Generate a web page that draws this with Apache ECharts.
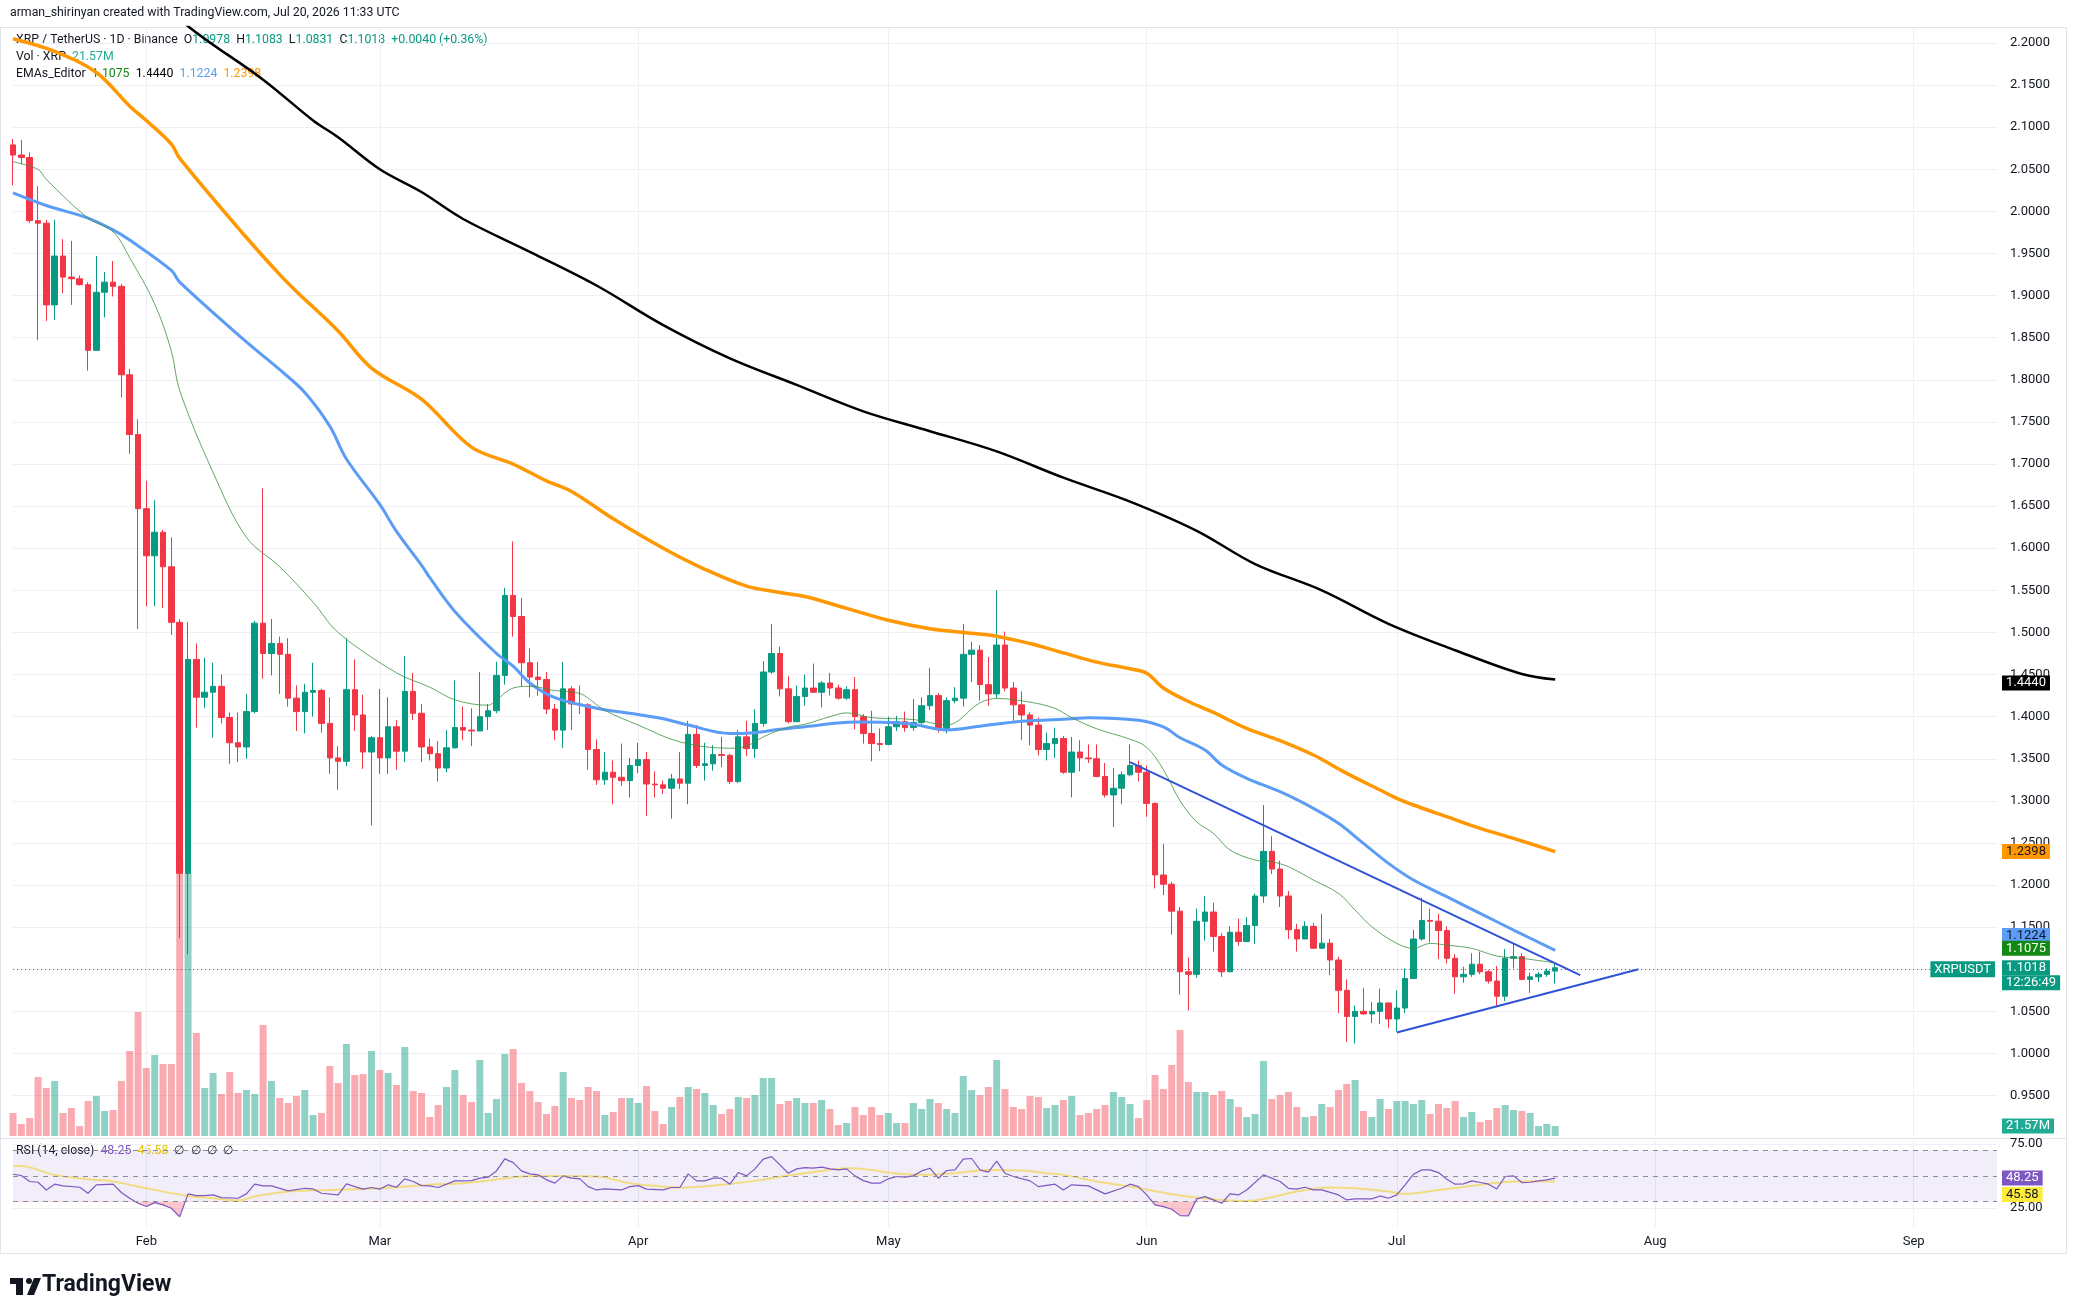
<!DOCTYPE html>
<html><head><meta charset="utf-8">
<script src="https://cdn.jsdelivr.net/npm/echarts@6/dist/echarts.min.js"></script>
<style>html,body{margin:0;padding:0;background:#fff}#c{width:2078px;height:1314px}</style>
</head><body><div id="c"></div>
<script>
// ---------- DATA ----------
const opens = [
2.079,2.067,2.064,1.989,1.986,1.889,1.947,1.922,1.920,1.913,
1.835,1.904,1.916,1.911,1.806,1.735,1.647,1.591,1.619,1.578,
1.512,1.214,1.468,1.423,1.429,1.436,1.399,1.369,1.364,1.406,
1.511,1.475,1.487,1.474,1.422,1.406,1.429,1.431,1.392,1.351,
1.347,1.432,1.402,1.358,1.375,1.351,1.388,1.359,1.430,1.404,
1.364,1.356,1.339,1.363,1.387,1.384,1.383,1.400,1.407,1.449,
1.544,1.519,1.464,1.447,1.444,1.409,1.384,1.433,1.415,1.414,
1.361,1.325,1.334,1.328,1.324,1.342,1.349,1.320,1.319,1.315,
1.326,1.321,1.379,1.342,1.344,1.355,1.354,1.323,1.376,1.362,
1.392,1.453,1.475,1.433,1.394,1.424,1.434,1.429,1.440,1.434,
1.422,1.432,1.400,1.380,1.368,1.367,1.388,1.394,1.387,1.393,
1.413,1.425,1.386,1.419,1.422,1.474,1.479,1.438,1.427,1.485,
1.434,1.414,1.402,1.390,1.361,1.368,1.374,1.334,1.358,1.351,
1.350,1.329,1.307,1.315,1.331,1.342,1.334,1.297,1.212,1.201,
1.169,1.097,1.094,1.157,1.168,1.139,1.097,1.144,1.133,1.152,
1.187,1.240,1.219,1.187,1.147,1.136,1.151,1.125,1.131,1.111,
1.075,1.044,1.050,1.047,1.050,1.060,1.041,1.054,1.089,1.136,
1.158,1.157,1.146,1.113,1.091,1.094,1.106,1.097,1.086,1.068,
1.113,1.115,1.088,1.091,1.094,1.0978];
const highs = [
2.086,2.085,2.070,2.030,1.990,1.990,1.967,1.965,1.924,1.916,
1.947,1.928,1.941,1.914,1.813,1.753,1.680,1.657,1.622,1.613,
1.516,1.512,1.487,1.470,1.464,1.450,1.405,1.405,1.427,1.514,
1.671,1.516,1.495,1.493,1.437,1.439,1.464,1.433,1.423,1.365,
1.493,1.468,1.426,1.377,1.433,1.423,1.396,1.472,1.452,1.415,
1.374,1.371,1.384,1.443,1.412,1.410,1.453,1.415,1.465,1.553,
1.608,1.541,1.481,1.465,1.453,1.415,1.465,1.436,1.437,1.416,
1.373,1.358,1.348,1.368,1.351,1.369,1.358,1.335,1.324,1.332,
1.358,1.395,1.390,1.369,1.366,1.376,1.356,1.384,1.395,1.409,
1.466,1.510,1.483,1.448,1.437,1.450,1.463,1.442,1.452,1.438,
1.436,1.447,1.403,1.407,1.386,1.400,1.401,1.406,1.421,1.423,
1.458,1.428,1.423,1.435,1.510,1.489,1.485,1.471,1.550,1.501,
1.441,1.430,1.405,1.399,1.381,1.387,1.377,1.376,1.372,1.367,
1.367,1.345,1.339,1.335,1.367,1.348,1.342,1.298,1.249,1.204,
1.174,1.114,1.172,1.187,1.179,1.143,1.151,1.160,1.162,1.190,
1.295,1.258,1.229,1.193,1.154,1.157,1.155,1.166,1.136,1.115,
1.088,1.057,1.078,1.061,1.077,1.061,1.075,1.101,1.147,1.185,
1.172,1.166,1.151,1.118,1.103,1.119,1.121,1.099,1.104,1.124,
1.131,1.119,1.096,1.097,1.101,1.1083];
const lows = [
2.031,2.056,1.986,1.847,1.870,1.871,1.903,1.889,1.912,1.811,
1.835,1.874,1.899,1.779,1.712,1.504,1.531,1.531,1.529,1.497,
1.137,1.118,1.387,1.410,1.375,1.392,1.344,1.346,1.350,1.404,
1.445,1.449,1.427,1.412,1.383,1.380,1.400,1.381,1.332,1.313,
1.341,1.383,1.338,1.271,1.332,1.332,1.337,1.346,1.396,1.346,
1.348,1.323,1.334,1.362,1.372,1.365,1.383,1.384,1.404,1.438,
1.495,1.436,1.423,1.425,1.403,1.372,1.363,1.384,1.403,1.337,
1.319,1.319,1.296,1.318,1.304,1.333,1.282,1.304,1.308,1.279,
1.314,1.296,1.339,1.324,1.336,1.340,1.320,1.321,1.353,1.351,
1.388,1.451,1.424,1.392,1.394,1.413,1.428,1.411,1.425,1.420,
1.420,1.385,1.368,1.347,1.359,1.366,1.383,1.382,1.383,1.391,
1.408,1.381,1.380,1.416,1.412,1.441,1.419,1.413,1.422,1.430,
1.395,1.372,1.366,1.354,1.348,1.351,1.332,1.304,1.335,1.345,
1.328,1.304,1.269,1.296,1.329,1.323,1.281,1.196,1.188,1.141,
1.070,1.051,1.090,1.134,1.121,1.091,1.097,1.128,1.132,1.130,
1.179,1.213,1.174,1.136,1.121,1.136,1.124,1.124,1.093,1.048,
1.014,1.012,1.046,1.036,1.035,1.030,1.026,1.048,1.089,1.134,
1.132,1.112,1.107,1.071,1.084,1.091,1.094,1.083,1.056,1.062,
1.101,1.087,1.072,1.085,1.091,1.0831];
const closes = [
2.067,2.064,1.989,1.986,1.889,1.947,1.922,1.920,1.913,1.835,
1.904,1.916,1.911,1.806,1.735,1.647,1.591,1.619,1.578,1.512,
1.214,1.468,1.423,1.429,1.436,1.399,1.369,1.364,1.406,1.511,
1.475,1.487,1.474,1.422,1.406,1.429,1.431,1.392,1.351,1.347,
1.432,1.402,1.358,1.375,1.351,1.388,1.359,1.430,1.404,1.364,
1.356,1.339,1.363,1.387,1.384,1.383,1.400,1.407,1.449,1.544,
1.519,1.464,1.447,1.444,1.409,1.384,1.433,1.415,1.414,1.361,
1.325,1.334,1.328,1.324,1.342,1.349,1.320,1.319,1.315,1.326,
1.321,1.379,1.342,1.344,1.355,1.354,1.323,1.376,1.362,1.392,
1.453,1.475,1.433,1.394,1.424,1.434,1.429,1.440,1.434,1.422,
1.432,1.400,1.380,1.368,1.367,1.388,1.394,1.387,1.393,1.413,
1.425,1.386,1.419,1.422,1.474,1.479,1.438,1.427,1.485,1.434,
1.414,1.402,1.390,1.361,1.368,1.374,1.334,1.358,1.351,1.350,
1.329,1.307,1.315,1.331,1.342,1.334,1.297,1.212,1.201,1.169,
1.097,1.094,1.157,1.168,1.139,1.097,1.144,1.133,1.152,1.187,
1.240,1.219,1.187,1.147,1.136,1.151,1.125,1.131,1.111,1.075,
1.044,1.050,1.047,1.050,1.060,1.041,1.054,1.089,1.136,1.158,
1.157,1.146,1.113,1.091,1.094,1.106,1.097,1.086,1.068,1.113,
1.115,1.088,1.091,1.094,1.0978,1.1018];
// volume, millions of XRP
const volumes = [
49.7,25.9,38.9,127.4,103.7,118.8,49.7,60.5,21.6,75.6,
86.4,54.0,56.2,118.8,183.6,267.8,146.9,175.0,155.5,155.5,
598.3,568.1,222.5,103.7,136.1,90.7,138.2,92.9,99.4,90.7,
239.8,118.8,82.1,71.3,86.4,99.4,45.4,49.7,151.2,114.5,
198.7,131.8,133.9,183.6,142.6,136.1,110.2,192.2,97.2,92.9,
41.0,67.0,105.8,142.6,88.6,73.4,164.2,49.7,79.9,177.1,
187.9,114.5,97.2,73.4,47.5,64.8,138.2,82.1,77.8,105.8,
97.2,45.4,51.8,82.1,82.1,71.3,108.0,54.0,25.9,62.6,
84.2,105.8,101.5,92.9,67.0,47.5,58.3,84.2,82.1,88.6,
125.3,125.3,69.1,75.6,82.1,71.3,71.3,77.8,58.3,23.8,
28.1,62.6,45.4,62.6,45.4,49.7,28.1,28.1,71.3,58.3,
79.9,71.3,58.3,49.7,129.6,99.4,88.6,105.8,164.2,101.5,
62.6,58.3,86.4,84.2,60.5,67.0,77.8,86.4,45.4,49.7,
58.3,67.0,95.0,84.2,69.1,38.9,77.8,131.8,101.5,153.4,
229.0,116.6,95.0,95.0,88.6,97.2,79.9,62.6,41.0,47.5,
162.0,79.9,88.6,95.0,62.6,41.0,43.2,69.1,62.6,99.4,
112.3,121.0,54.0,41.0,79.9,58.3,75.6,75.6,69.1,77.8,
47.5,69.1,60.5,75.6,41.0,51.8,30.2,34.6,60.5,67.0,
56.2,54.0,49.7,21.6,25.9,21.57];
// EMA lines: [day index from Jan 16, value]
const emaFast = [[0,2.059],[3,2.05],[4,2.038],[9,1.992],[12,1.976],[14,1.945],[17,1.89],[19,1.834],[20,1.787],[24,1.69],[28,1.613],[32,1.578],[36,1.536],[39,1.50],[46,1.452],[50,1.435],[53,1.42],[57,1.4135],[58,1.42],[60,1.434],[62,1.436],[65,1.431],[68,1.4275],[71,1.4075],[75,1.39],[80,1.37],[86,1.3625],[88,1.365],[90,1.376],[93,1.3875],[95,1.391],[98,1.40],[100,1.4045],[103,1.3988],[108,1.3966],[112,1.39],[116,1.4164],[118,1.4216],[122,1.4172],[125,1.4098],[127,1.3988],[130,1.3856],[134,1.3732],[136,1.3636],[138,1.3372],[140,1.30],[142,1.275],[144,1.2614],[146,1.2416],[149,1.2297],[151,1.2277],[153,1.2218],[156,1.206],[159,1.1901],[161,1.1703],[163,1.1505],[166,1.1307],[168,1.1248],[170,1.1307],[172,1.1287],[175,1.1248],[178,1.1157],[181,1.113],[185,1.1075]];
const emaMid = [[0,2.022],[4,2.007],[9,1.992],[12,1.978],[14,1.966],[19,1.93],[20,1.916],[28,1.845],[32,1.812],[35,1.785],[38,1.745],[40,1.706],[44,1.652],[46,1.62],[49,1.58],[50,1.565],[53,1.525],[58,1.475],[60,1.46],[62,1.44],[65,1.4225],[70,1.41],[75,1.4025],[78,1.3975],[81,1.39],[86,1.38],[89,1.381],[92,1.385],[95,1.388],[101,1.3935],[105,1.393],[108,1.391],[112,1.3842],[116,1.3886],[121,1.3944],[127,1.3974],[129,1.3988],[135,1.3957],[138,1.3878],[140,1.375],[143,1.3604],[145,1.3426],[148,1.3268],[152,1.3109],[156,1.2911],[159,1.2733],[162,1.2495],[165,1.2258],[168,1.206],[172,1.1862],[176,1.1663],[180,1.1466],[185,1.1224]];
const emaSlow = [[0,2.205],[5,2.19],[10,2.165],[14,2.125],[16,2.108],[19,2.08],[20,2.063],[28,1.969],[32,1.925],[34,1.905],[39,1.858],[43,1.814],[49,1.777],[55,1.72],[60,1.70],[64,1.68],[67,1.6675],[72,1.635],[78,1.60],[83,1.575],[88,1.555],[92,1.5475],[95,1.5426],[100,1.5286],[105,1.5145],[110,1.5044],[114,1.50],[118,1.4956],[122,1.4868],[126,1.4758],[130,1.4648],[134,1.4568],[136,1.4516],[138,1.434],[141,1.418],[144,1.405],[148,1.386],[152,1.3715],[156,1.3544],[160,1.3326],[164,1.3129],[166,1.303],[168,1.2951],[172,1.2812],[176,1.2674],[180,1.2555],[185,1.2398]];
const emaLong = [[17,2.26],[21,2.22],[30,2.1565],[36,2.108],[39,2.088],[44,2.05],[49,2.023],[54,1.991],[62,1.952],[70,1.912],[78,1.865],[86,1.8255],[94,1.794],[102,1.7625],[110,1.739],[118,1.715],[126,1.6838],[134,1.6554],[142,1.6207],[149,1.5812],[157,1.55],[165,1.5103],[173,1.4789],[181,1.4506],[185,1.444]];
// drawn triangle: [day index, price]
const upperTrend = [[134,1.346],[188,1.093]];
const lowerTrend = [[166,1.025],[195,1.100]];
// RSI(14) and its moving average: [day index, value]
const rsiLine = [[0,51.3],[1,50.3],[2,45.6],[3,45],[4,39],[5,43.5],[6,42.2],[8,41.1],[9,36.4],[10,43],[12,43.5],[13,37],[14,32.5],[15,28.6],[16,26],[17,29.1],[18,27.3],[19,24.7],[20,18],[21,35.9],[22,34.6],[23,34.6],[24,35.1],[25,33],[27,32.5],[28,35.9],[29,43.5],[30,42.2],[31,42.2],[33,38.3],[35,40.3],[36,39.8],[37,36.4],[39,35.1],[40,43.7],[41,41.6],[42,39.6],[43,40.9],[44,39.6],[45,43],[46,41.1],[47,47.7],[48,45.6],[49,42.4],[50,42.2],[51,40.9],[53,46.1],[54,46.1],[55,46.3],[56,48.2],[57,49],[58,53.9],[59,63.3],[60,60.4],[61,53.9],[62,51.6],[63,50.8],[64,46.9],[65,44.3],[66,50],[67,48.2],[68,47.7],[69,41.6],[70,39],[71,39.8],[73,39],[74,41.6],[75,42.4],[76,39.6],[78,39],[79,40.9],[80,40.9],[81,51.6],[82,46.1],[83,46.1],[84,48.2],[85,48.2],[86,43.5],[87,52.6],[88,50],[89,55.5],[90,63.1],[91,65.1],[92,58.6],[93,52.1],[94,55.5],[95,56.5],[96,56],[97,56.8],[98,55.5],[99,54.7],[100,55.5],[101,50],[102,46.3],[103,44.3],[104,44.3],[105,47.7],[106,49.5],[107,49],[108,50],[109,53.9],[110,56],[111,48.2],[112,54.2],[113,54.7],[114,63.1],[115,63.6],[116,54.7],[117,52.9],[118,61.5],[119,52.1],[120,49.5],[122,46.1],[123,41.6],[125,43.5],[126,39],[127,43],[129,42.2],[131,35.9],[133,40.3],[134,43.5],[135,41.6],[136,35.1],[137,27.3],[138,26],[139,23.9],[140,18.9],[141,18.7],[142,32],[143,33.8],[144,31.2],[145,28.6],[146,35.9],[147,35.1],[148,39],[150,50.8],[152,45.6],[153,40.3],[154,39.6],[155,41.1],[156,39],[157,39],[159,35.1],[160,31.2],[161,32],[163,32],[164,34.3],[165,32.5],[166,35.1],[167,43],[168,51.3],[169,54.7],[170,54.7],[171,52.6],[172,47.4],[173,43.5],[174,43.7],[175,46.1],[176,44.8],[177,43.5],[178,39.8],[179,49.5],[180,50],[181,44.8],[182,45],[183,46.1],[184,46.9],[185,48.25]];
const rsiMA = [[0,57.8],[1,57.8],[3,54.7],[5,50.8],[9,47.4],[12,45.6],[16,40.3],[21,34.3],[24,32.5],[27,30.7],[29,33.8],[33,37.7],[38,39],[42,39.8],[46,41.1],[50,43],[54,44.3],[57,46.3],[60,49],[63,50],[66,50],[70,49.5],[74,44.3],[77,42.2],[80,40.9],[85,43],[89,46.1],[93,50.3],[97,53.9],[100,56],[103,54.7],[105,52.6],[109,50.8],[113,52.1],[117,54.7],[121,54.2],[124,52.1],[126,50.8],[130,45.6],[134,41.6],[138,36.9],[142,33],[145,31.2],[148,30.4],[151,33.3],[154,37.7],[158,40.9],[161,40.3],[165,37.7],[167,35.9],[171,39],[175,42.2],[179,45.2],[182,45.8],[185,45.58]];
// tick labels
const priceTicks = [0.95,1.00,1.05,1.10,1.15,1.20,1.25,1.30,1.35,1.40,1.45,1.50,1.55,1.60,1.65,1.70,1.75,1.80,1.85,1.90,1.95,2.00,2.05,2.10,2.15,2.20];
const rsiTicks = [25,75];
const rsiLevels = [70,50,30];
const monthTicks = [['2026-02-01','Feb'],['2026-03-01','Mar'],['2026-04-01','Apr'],['2026-05-01','May'],['2026-06-01','Jun'],['2026-07-01','Jul'],['2026-08-01','Aug'],['2026-09-01','Sep']];
const lastVolumeLabel = '21.57M';
const rsiLast = 48.25, rsiMALast = 45.58;
const countdown = '12:26:49';

// ---------- BUILD ----------
const START = Date.UTC(2026,0,16), N_DAYS = 239;
const categories = [];
for (let i=0;i<N_DAYS;i++){ categories.push(new Date(START+i*86400000).toISOString().slice(0,10)); }
const monthMap = Object.fromEntries(monthTicks);
const UP='#089981', DOWN='#f23645';
const FONT = 'Roboto, "Noto Sans", sans-serif';
const FS = 12.3;
const TXT = '#131722';
const CLEAR = 'rgba(0,0,0,0)';
const n = opens.length;
const candleData = opens.map((o,i)=>[o,closes[i],lows[i],highs[i]]);
const volData = volumes.map((v,i)=>({value:v,itemStyle:{color: closes[i]>=opens[i] ? 'rgba(8,153,129,0.45)' : 'rgba(242,54,69,0.42)'}}));
const toCat = arr => arr.map(([d,v])=>[categories[d], v]);
const lastO=opens[n-1], lastH=highs[n-1], lastL=lows[n-1], lastC=closes[n-1];
const chg = lastC - closes[n-2];
const f4 = v => v.toFixed(4);

// axis value tag; spacerTop / spacerBottom mimic TradingView pushing crowded tags apart
const tag = (lines, bg, fg, spacerTop, spacerBottom, lh) => {
  lh = lh || 17;
  let s = '';
  if (spacerTop) s += '{t| }\n';
  s += lines.map(t=>'{v|'+t+'}').join('\n');
  if (spacerBottom) s += '\n{b| }';
  return {show:true, position:'end', distance:5, formatter:s, opacity:1,
    rich:{
      v:{backgroundColor:bg, color:fg, padding:[1,4,1,4], fontSize:13, fontFamily:FONT, lineHeight:lh},
      t:{lineHeight:spacerTop||1, fontSize:1},
      b:{lineHeight:spacerBottom||1, fontSize:1}
    }};
};
const hidden = {color:CLEAR, width:0, opacity:1};
const emaMark = (val, bg, fg, sb) => ({symbol:'none', silent:true, data:[{yAxis:val, lineStyle:hidden, label:tag([f4(val)], bg, fg, 0, sb)}]});

const xAxisFor = (gi, labels) => ({
  type:'category', gridIndex:gi, data:categories, boundaryGap:false,
  axisLine:{show:false}, axisTick:{show:false},
  axisLabel: labels ? {show:true, interval:(i,v)=> (v in monthMap), formatter:v=>monthMap[v]||'', color:TXT, fontSize:13, fontFamily:FONT, margin:8} : {show:false},
  splitLine:{show: gi!==1, interval:(i,v)=> (v in monthMap), lineStyle:{color:'#eef0f5', width:1}}
});

const option = {
  animation:false,
  backgroundColor:'#ffffff',
  grid:[
    {left:13, right:81, top:27, height:1109},
    {left:13, right:81, top:27, height:1109},
    {left:13, right:81, top:1141, height:86}
  ],
  xAxis:[xAxisFor(0,false), xAxisFor(1,false), xAxisFor(2,true)],
  yAxis:[
    {gridIndex:0, type:'value', position:'right', min:0.902, max:2.219,
     axisLine:{show:false}, axisTick:{show:false, customValues:priceTicks},
     axisLabel:{customValues:priceTicks, formatter:v=>v.toFixed(4), color:TXT, fontSize:13, fontFamily:FONT, margin:13},
     splitLine:{show:true, lineStyle:{color:'#eef0f5'}}},
    {gridIndex:1, type:'value', min:0, max:2395, show:false},
    {gridIndex:2, type:'value', position:'right', min:10, max:77.3,
     axisLine:{show:false}, axisTick:{show:false, customValues:rsiTicks},
     axisLabel:{customValues:rsiTicks, formatter:v=>v.toFixed(2), color:TXT, fontSize:13, fontFamily:FONT, margin:13},
     splitLine:{show:true, lineStyle:{color:'#eef0f5'}}}
  ],
  visualMap:[{type:'piecewise', show:false, seriesIndex:8, dimension:1,
    pieces:[{min:0, max:30, color:'rgba(242,54,69,0.28)'},{min:30, max:100, color:CLEAR}],
    outOfRange:{color:CLEAR}}],
  series:[
    {name:'Vol', type:'bar', xAxisIndex:1, yAxisIndex:1, data:volData, barWidth:7, clip:false,
     markLine:{symbol:'none', silent:true, data:[{yAxis:volumes[n-1], lineStyle:hidden, label:tag([lastVolumeLabel],'#22ab94','#fff')}]}},
    {name:'EMA200', type:'line', xAxisIndex:0, yAxisIndex:0, data:toCat(emaLong), showSymbol:false, smooth:0.35, lineStyle:{color:'#000000', width:2.5}, markLine:emaMark(1.4440,'#000000','#ffffff',0)},
    {name:'EMA100', type:'line', xAxisIndex:0, yAxisIndex:0, data:toCat(emaSlow), showSymbol:false, smooth:0.35, lineStyle:{color:'#ff9800', width:3.5}, markLine:emaMark(1.2398,'#ff9800','#131722',0)},
    {name:'EMA50', type:'line', xAxisIndex:0, yAxisIndex:0, data:toCat(emaMid), showSymbol:false, smooth:0.35, lineStyle:{color:'#5b9cf6', width:3}, markLine:emaMark(1.1224,'#5b9cf6','#131722',34)},
    {name:'EMA20', type:'line', xAxisIndex:0, yAxisIndex:0, data:toCat(emaFast), showSymbol:false, smooth:0.35, lineStyle:{color:'#3f8f3f', width:1, opacity:0.8}, markLine:emaMark(1.1075,'#128a12','#ffffff',25)},
    {name:'XRPUSDT', type:'candlestick', xAxisIndex:0, yAxisIndex:0, data:candleData, barWidth:6, clip:false,
     itemStyle:{color:UP, color0:DOWN, borderColor:UP, borderColor0:DOWN, borderWidth:1},
     markLine:{symbol:'none', silent:true, data:[
       {yAxis:lastC, lineStyle:{type:[1,3], color:UP, width:1}, label:tag([f4(lastC), countdown], UP, '#fff', 12, 0, 15)},
       {yAxis:lastC, lineStyle:hidden, label:{show:true, position:'insideEnd', distance:2, formatter:'XRPUSDT', backgroundColor:UP, color:'#fff', padding:[2,4,1,4], fontSize:13, fontFamily:FONT, opacity:1}}
     ]}},
    {name:'upper', type:'line', xAxisIndex:0, yAxisIndex:0, data:toCat(upperTrend), showSymbol:false, lineStyle:{color:'#2f52d6', width:2}},
    {name:'lower', type:'line', xAxisIndex:0, yAxisIndex:0, data:toCat(lowerTrend), showSymbol:false, lineStyle:{color:'#2f52d6', width:2}},
    {name:'rsiFill', type:'line', xAxisIndex:2, yAxisIndex:2, data:toCat(rsiLine), showSymbol:false, lineStyle:{width:0, opacity:0}, areaStyle:{origin:30, opacity:1}},
    {name:'rsiMA', type:'line', xAxisIndex:2, yAxisIndex:2, data:toCat(rsiMA), showSymbol:false, smooth:0.4, lineStyle:{color:'rgba(240,208,50,0.6)', width:2},
     markLine:{symbol:'none', silent:true, data:[{yAxis:rsiMALast, lineStyle:hidden, label:tag([rsiMALast.toFixed(2)],'#ffeb3b','#131722',26,0)}]}},
    {name:'RSI', type:'line', xAxisIndex:2, yAxisIndex:2, data:toCat(rsiLine), showSymbol:false, lineStyle:{color:'#7e57c2', width:1.2},
     markArea:{silent:true, itemStyle:{color:'rgba(126,87,194,0.1)'}, data:[[{yAxis:rsiLevels[2]},{yAxis:rsiLevels[0]}]]},
     markLine:{symbol:'none', silent:true, data:[
       ...rsiLevels.map(v=>({yAxis:v, lineStyle:{type:[5,5], color:'#8a8d98', width:1}, label:{show:false}})),
       {yAxis:rsiLast, lineStyle:hidden, label:tag([rsiLast.toFixed(2)],'#7e57c2','#ffffff')}
     ]}}
  ],
  graphic:[
    {type:'rect', silent:true, z:-10, shape:{x:0.5, y:27.5, width:2066, height:1226}, style:{fill:'none', stroke:'#e0e3eb', lineWidth:1}},
    {type:'line', silent:true, shape:{x1:0, y1:1138.5, x2:2066, y2:1138.5}, style:{stroke:'#e0e3eb', lineWidth:1}},
    {type:'text', left:10, top:7, style:{text:'arman_shirinyan created with TradingView.com, Jul 20, 2026 11:33 UTC', fill:TXT, font:FS+'px '+FONT}},
    {type:'text', left:16, top:34, style:{
      text:'{a|XRP / TetherUS · 1D · Binance}  {a|O}{b|'+f4(lastO)+'}  {a|H}{b|'+f4(lastH)+'}  {a|L}{b|'+f4(lastL)+'}  {a|C}{b|'+f4(lastC)+'}  {b|+'+chg.toFixed(4)+' (+'+(chg/closes[n-2]*100).toFixed(2)+'%)}',
      font:FS+'px '+FONT, rich:{a:{fill:TXT, fontSize:FS, fontFamily:FONT}, b:{fill:UP, fontSize:FS, fontFamily:FONT}}}},
    {type:'text', left:16, top:51, style:{
      text:'{a|Vol · XRP}  {b|'+lastVolumeLabel+'}', font:FS+'px '+FONT,
      rich:{a:{fill:TXT, fontSize:FS, fontFamily:FONT}, b:{fill:'#22ab94', fontSize:FS, fontFamily:FONT}}}},
    {type:'text', left:16, top:68, style:{
      text:'{a|EMAs_Editor}  {g|1.1075}  {k|1.4440}  {u|1.1224}  {o|1.2398}', font:FS+'px '+FONT,
      rich:{a:{fill:TXT, fontSize:FS, fontFamily:FONT}, g:{fill:'#128a12', fontSize:FS, fontFamily:FONT}, k:{fill:'#000', fontSize:FS, fontFamily:FONT}, u:{fill:'#5b9cf6', fontSize:FS, fontFamily:FONT}, o:{fill:'#ff9800', fontSize:FS, fontFamily:FONT}}}},
    {type:'text', left:16, top:1145, style:{
      text:'{a|RSI (14, close)}  {p|'+rsiLast.toFixed(2)+'}  {y|'+rsiMALast.toFixed(2)+'}  {a|∅  ∅  ∅  ∅}', font:FS+'px '+FONT,
      rich:{a:{fill:TXT, fontSize:FS, fontFamily:FONT}, p:{fill:'#7e57c2', fontSize:FS, fontFamily:FONT}, y:{fill:'#e6c700', fontSize:FS, fontFamily:FONT}}}},
    {type:'group', left:10, top:1278, children:[
      {type:'rect', shape:{x:0, y:0, width:13, height:6}, style:{fill:'#131722'}},
      {type:'rect', shape:{x:6, y:0, width:7, height:17}, style:{fill:'#131722'}},
      {type:'circle', shape:{cx:19, cy:3, r:3}, style:{fill:'#131722'}},
      {type:'polygon', shape:{points:[[24,0],[31,0],[24,17],[17,17]]}, style:{fill:'#131722'}}
    ]},
    {type:'text', left:42, top:1274, style:{text:'TradingView', fill:TXT, font:'bold 23px '+FONT}}
  ]
};
const chart = echarts.init(document.getElementById('c'), null, {renderer:'canvas', width:2078, height:1314});
chart.setOption(option);
</script></body></html>
